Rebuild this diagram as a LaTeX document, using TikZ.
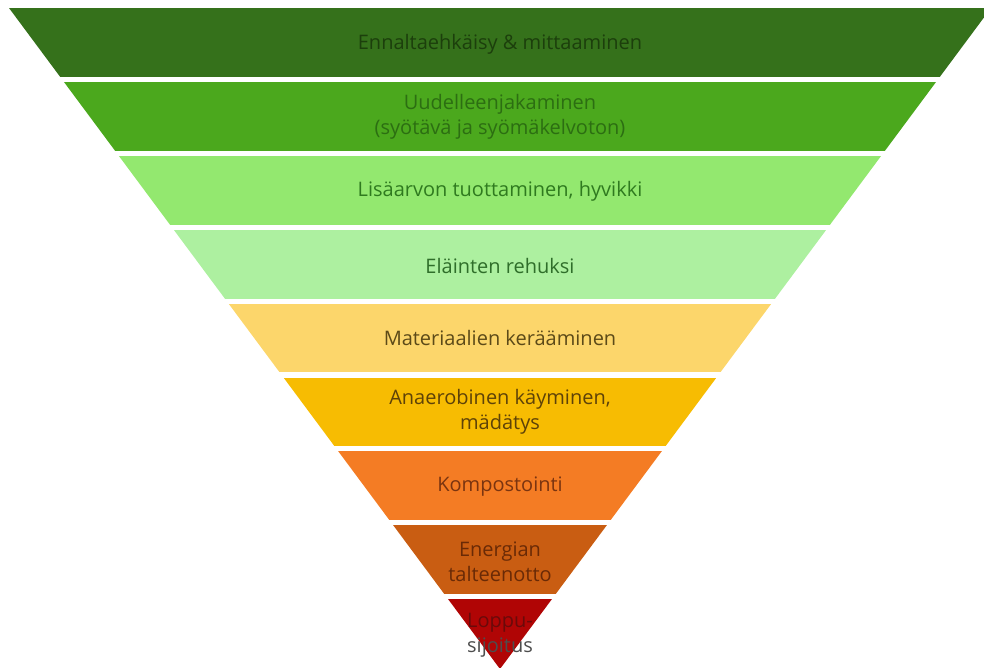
\documentclass[tikz,border=0pt]{standalone}
\usepackage{fontspec}
\setmainfont{Open Sans}
\definecolor{fillA}{HTML}{35711B}
\definecolor{fillB}{HTML}{4BA81D}
\definecolor{fillC}{HTML}{93E86F}
\definecolor{fillD}{HTML}{ADF0A0}
\definecolor{fillE}{HTML}{FCD66B}
\definecolor{fillF}{HTML}{F7BC02}
\definecolor{fillG}{HTML}{F47C24}
\definecolor{fillH}{HTML}{C95D12}
\definecolor{fillI}{HTML}{B00505}
\definecolor{txtA}{HTML}{1C3F0C}
\definecolor{txtB}{HTML}{2C6E12}
\definecolor{txtC}{HTML}{2F7A1F}
\definecolor{txtD}{HTML}{2F6E2A}
\definecolor{txtE}{HTML}{5C4A18}
\definecolor{txtF}{HTML}{5E4208}
\definecolor{txtG}{HTML}{7A3410}
\definecolor{txtH}{HTML}{6A2A06}
\definecolor{txtI}{HTML}{6A0A0A}
\definecolor{txtJ}{HTML}{4D4D4D}
\begin{document}
\begin{tikzpicture}[x=1pt,y=-1pt,
  lbl/.style={font=\fontsize{20}{25}\selectfont, align=center, inner sep=0pt}]
\useasboundingbox (0,0) rectangle (984,668);
% inverted pyramid: nine bands cut from one triangle
\begin{scope}
  \clip (9,8) -- (991,8) -- (500,669) -- cycle;
  \foreach \i/\c in {0/fillA,1/fillB,2/fillC,3/fillD,4/fillE,5/fillF,6/fillG,7/fillH,8/fillI}
    \fill[\c] (0,{8+73.9*\i}) rectangle (1000,{8+73.9*\i+68.8});
\end{scope}
% band labels
\node[lbl,text=txtA] (l1) at (500,44) {Ennaltaehkäisy \& mittaaminen};
\node[lbl,text=txtB] (l2) at (500,117) {Uudelleenjakaminen\\(syötävä ja syömäkelvoton)};
\node[lbl,text=txtC] (l3) at (500,191) {Lisäarvon tuottaminen, hyvikki};
\node[lbl,text=txtD] (l4) at (500,266) {Eläinten rehuksi};
\node[lbl,text=txtE] (l5) at (500,338) {Materiaalien kerääminen};
\node[lbl,text=txtF] (l6) at (500,412) {Anaerobinen käyminen,\\mädätys};
\node[lbl,text=txtG] (l7) at (500,487) {Kompostointi};
\node[lbl,text=txtH] (l8) at (500,562) {Energian\\talteenotto};
\node[lbl,text=txtI] (l9a) at (500,623) {Loppu-};
\node[lbl,text=txtJ] (l9b) at (500,648) {sijoitus};
\end{tikzpicture}
\end{document}
